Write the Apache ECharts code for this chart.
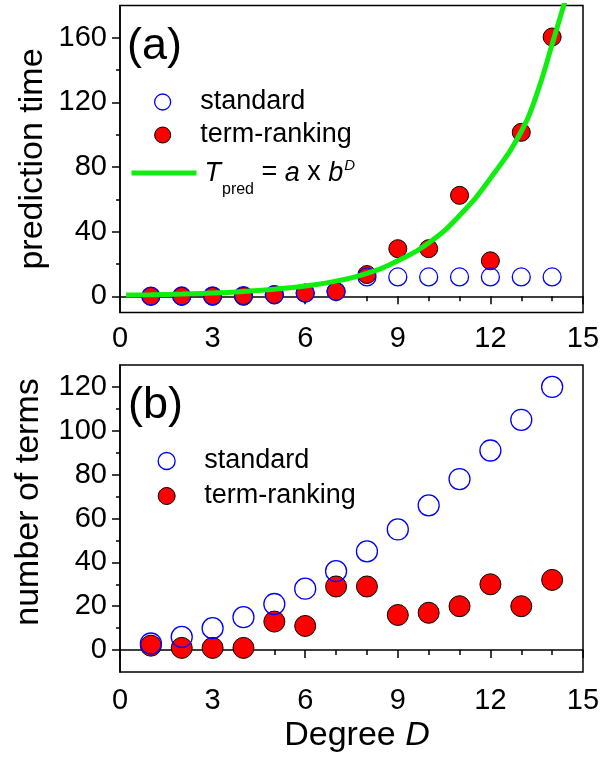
<!DOCTYPE html>
<html>
<head>
<meta charset="utf-8">
<script src="https://cdn.jsdelivr.net/npm/echarts@6/dist/echarts.min.js"></script>
<style>
  html, body { margin: 0; padding: 0; background: #fff; }
  #chart { width: 603px; height: 761px; }
</style>
</head>
<body>
<div id="chart"></div>
<script>
// degree D
const degrees = [1, 2, 3, 4, 5, 6, 7, 8, 9, 10, 11, 12, 13, 14];
// (a) prediction time
const timeStandard = [0.1, 0.2, 0.3, 0.5, 1, 2, 3, 12, 12, 12, 12, 12, 12, 12];
const timeRanking = [0, 0, 0, 0, 1, 2, 3, 13.5, 29.5, 29.5, 62.5, 22, 101.5, 160.5];
// fitted curve T_pred = a x b^D
const fitDegrees = [0.2, 1, 2, 3, 4, 5, 6, 7, 8, 9, 10, 11, 12, 13, 13.5, 14, 14.5];
const fitTime = [0.8, 1.0, 1.4, 2.0, 3.0, 4.4, 6.4, 9.4, 14.2, 22, 33, 50, 73, 102, 125, 156, 188];
// (b) number of terms
const termsStandard = [3, 6, 10, 15, 21, 28, 36, 45, 55, 66, 78, 91, 105, 120];
const termsRanking = [2, 1, 1, 1, 13, 11, 29, 29, 16, 17, 20, 30, 20, 32];
// tick labels
const timeTicks = [0, 40, 80, 120, 160];
const timeMinor = [20, 60, 100, 140];
const termTicks = [0, 20, 40, 60, 80, 100, 120];
const termMinor = [10, 30, 50, 70, 90, 110];

const FONT = 'Liberation Sans';
const BLUE = '#0000ff';
const RED = '#ff0000';
const GREEN = '#10ee10';

const pairs = (xs, ys) => xs.map((x, i) => [x, ys[i]]);

const xAxisBase = (gridIndex, margin) => ({
  type: 'value',
  gridIndex,
  min: 0,
  max: 15,
  interval: 3,
  axisLine: { lineStyle: { color: '#000', width: 1.5 } },
  axisTick: { length: 8, lineStyle: { color: '#000', width: 1.5 } },
  minorTick: { show: true, splitNumber: 3, length: 5, lineStyle: { color: '#000', width: 1.5 } },
  axisLabel: { color: '#000', fontFamily: FONT, fontSize: 29, margin },
  splitLine: { show: false },
});

const yAxisMain = (gridIndex, min, max, ticks) => ({
  type: 'value',
  gridIndex,
  position: 'left',
  min,
  max,
  axisLine: { show: true, lineStyle: { color: '#000', width: 1.5 } },
  axisTick: { show: true, length: 8, customValues: ticks, lineStyle: { color: '#000', width: 1.5 } },
  axisLabel: { color: '#000', fontFamily: FONT, fontSize: 29, margin: 13, customValues: ticks },
  splitLine: { show: false },
});

// minor ticks only, laid over the main axis
const yAxisMinor = (gridIndex, min, max, ticks) => ({
  type: 'value',
  gridIndex,
  position: 'left',
  min,
  max,
  axisLine: { show: false },
  axisTick: { show: true, length: 4, customValues: ticks, lineStyle: { color: '#000', width: 1.5 } },
  axisLabel: { show: false },
  splitLine: { show: false },
});

const openStyle = { color: 'rgba(0,0,0,0)', borderColor: BLUE, borderWidth: 1.3, opacity: 1 };
const fillStyle = { color: RED, borderColor: '#000', borderWidth: 1, opacity: 1 };

const legendText = {
  color: '#000',
  fontFamily: FONT,
  fontSize: 27,
};

const chart = echarts.init(document.getElementById('chart'), null, { renderer: 'canvas' });

chart.setOption({
  animation: false,
  backgroundColor: '#fff',
  grid: [
    { left: 120, right: 20, top: 5.5, height: 307, show: true, borderColor: '#000', borderWidth: 1.5 },
    { left: 120, right: 20, top: 365, height: 307, show: true, borderColor: '#000', borderWidth: 1.5 },
  ],
  xAxis: [xAxisBase(0, 12), xAxisBase(1, 14)],
  yAxis: [
    yAxisMain(0, -10, 180, timeTicks),
    yAxisMain(1, -10, 130, termTicks),
    yAxisMinor(0, -10, 180, timeMinor),
    yAxisMinor(1, -10, 130, termMinor),
  ],
  legend: [
    {
      left: 149,
      top: 83.5,
      orient: 'vertical',
      itemWidth: 65,
      itemHeight: 16,
      itemGap: 6,
      selectedMode: false,
      textStyle: legendText,
      data: [
        { name: 'standard', itemStyle: openStyle },
        { name: 'term-ranking', itemStyle: fillStyle },
      ],
    },
    {
      left: 124,
      top: 153,
      orient: 'vertical',
      itemWidth: 65,
      itemHeight: 16,
      selectedMode: false,
      lineStyle: { color: GREEN, width: 5 },
      formatter: () => '{t|T}{s|pred}{n| = }{i|a}{n| x }{i|b}{p|D}',
      textStyle: {
        ...legendText,
        rich: {
          t: { fontFamily: FONT, fontSize: 27, fontStyle: 'italic', color: '#000', padding: [0, 0, 0, 3] },
          i: { fontFamily: FONT, fontSize: 27, fontStyle: 'italic', color: '#000' },
          n: { fontFamily: FONT, fontSize: 27, color: '#000' },
          s: { fontFamily: FONT, fontSize: 16, color: '#000', padding: [34, 0, 0, 1] },
          p: { fontFamily: FONT, fontSize: 15, fontStyle: 'italic', color: '#000', padding: [0, 0, 15, 1] },
        },
      },
      data: [{ name: 'fit', itemStyle: { color: 'rgba(0,0,0,0)', borderWidth: 0, opacity: 0 } }],
    },
    {
      left: 152.5,
      top: 442.5,
      orient: 'vertical',
      itemWidth: 65,
      itemHeight: 17,
      itemGap: 8,
      selectedMode: false,
      textStyle: legendText,
      data: [
        { name: 'standard', itemStyle: openStyle },
        { name: 'term-ranking', itemStyle: fillStyle },
      ],
    },
  ],
  series: [
    {
      name: 'fit',
      type: 'line',
      xAxisIndex: 0,
      yAxisIndex: 0,
      data: pairs(fitDegrees, fitTime),
      smooth: 0.5,
      symbol: 'none',
      clip: true,
      lineStyle: { color: GREEN, width: 5 },
      itemStyle: { color: GREEN },
    },
    {
      name: 'term-ranking',
      type: 'scatter',
      xAxisIndex: 0,
      yAxisIndex: 0,
      data: pairs(degrees, timeRanking),
      symbol: 'circle',
      symbolSize: 18,
      itemStyle: fillStyle,
    },
    {
      name: 'standard',
      type: 'scatter',
      xAxisIndex: 0,
      yAxisIndex: 0,
      data: pairs(degrees, timeStandard),
      symbol: 'circle',
      symbolSize: 18,
      itemStyle: openStyle,
    },
    {
      name: 'term-ranking',
      type: 'scatter',
      xAxisIndex: 1,
      yAxisIndex: 1,
      data: pairs(degrees, termsRanking),
      symbol: 'circle',
      symbolSize: 21,
      itemStyle: fillStyle,
    },
    {
      name: 'standard',
      type: 'scatter',
      xAxisIndex: 1,
      yAxisIndex: 1,
      data: pairs(degrees, termsStandard),
      symbol: 'circle',
      symbolSize: 21,
      itemStyle: openStyle,
    },
  ],
  graphic: [
    {
      type: 'text', x: 33, y: 159, rotation: Math.PI / 2,
      style: { text: 'prediction time', fontFamily: FONT, fontSize: 34, fill: '#000', align: 'center', verticalAlign: 'middle' },
    },
    {
      type: 'text', x: 29, y: 502, rotation: Math.PI / 2,
      style: { text: 'number of terms', fontFamily: FONT, fontSize: 34, fill: '#000', align: 'center', verticalAlign: 'middle' },
    },
    {
      type: 'text', x: 127, y: 47,
      style: { text: '(a)', fontFamily: FONT, fontSize: 45, fill: '#000', align: 'left', verticalAlign: 'middle' },
    },
    {
      type: 'text', x: 128, y: 406,
      style: { text: '(b)', fontFamily: FONT, fontSize: 45, fill: '#000', align: 'left', verticalAlign: 'middle' },
    },
    {
      type: 'text', x: 357, y: 736,
      style: {
        text: '{n|Degree }{i|D}',
        align: 'center',
        verticalAlign: 'middle',
        rich: {
          n: { fontFamily: FONT, fontSize: 34, fill: '#000' },
          i: { fontFamily: FONT, fontSize: 34, fontStyle: 'italic', fill: '#000' },
        },
      },
    },
  ],
});
</script>
</body>
</html>
